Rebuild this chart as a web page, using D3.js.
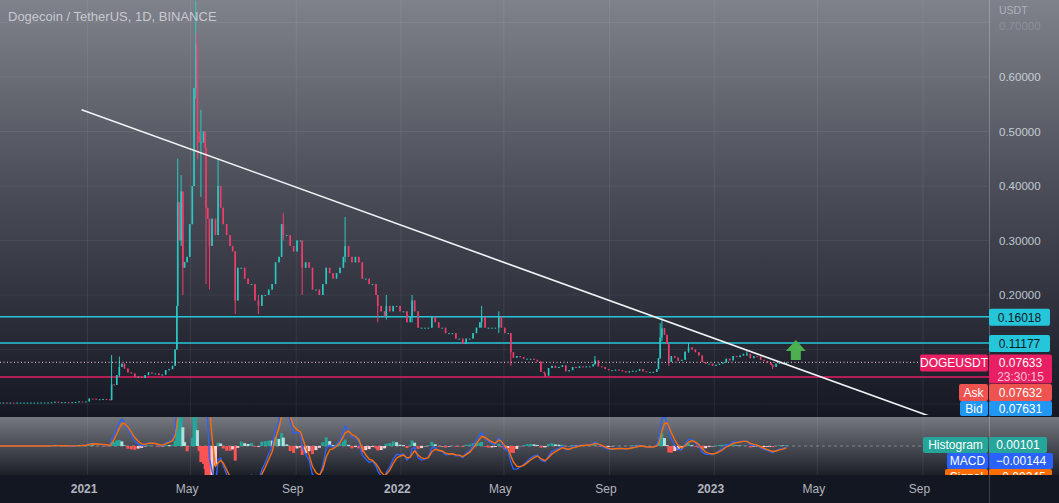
<!DOCTYPE html>
<html>
<head>
<meta charset="utf-8">
<script src="https://cdn.jsdelivr.net/npm/d3@7"></script>
<style>
body { margin: 0; background: #131722; overflow: hidden; }
svg { display: block; font-family: "Liberation Sans", Arial, sans-serif; }
</style>
</head>
<body>
<svg id="chart" width="1059" height="503"></svg>
<script>
// DOGE/USDT closes (about one every 4 days)
var dates = ["2020-09-21","2020-09-25","2020-09-29","2020-10-03","2020-10-07","2020-10-11","2020-10-15","2020-10-19","2020-10-23","2020-10-27","2020-10-31","2020-11-04","2020-11-08","2020-11-12","2020-11-16","2020-11-20","2020-11-24","2020-11-28","2020-12-02","2020-12-06","2020-12-10","2020-12-14","2020-12-18","2020-12-22","2020-12-26","2020-12-30",
"2021-01-03","2021-01-07","2021-01-11","2021-01-15","2021-01-19","2021-01-23","2021-01-27","2021-01-29","2021-02-01","2021-02-04","2021-02-07","2021-02-10","2021-02-13","2021-02-17","2021-02-21","2021-02-25","2021-03-01","2021-03-05","2021-03-09","2021-03-13","2021-03-17","2021-03-21","2021-03-25","2021-03-29","2021-04-02","2021-04-06","2021-04-10","2021-04-13","2021-04-15","2021-04-16","2021-04-18","2021-04-20","2021-04-22","2021-04-24","2021-04-27","2021-04-30",
"2021-05-03","2021-05-05","2021-05-07","2021-05-09","2021-05-11","2021-05-13","2021-05-16","2021-05-18","2021-05-19","2021-05-21","2021-05-23","2021-05-26","2021-05-30","2021-06-02","2021-06-05","2021-06-08","2021-06-12","2021-06-16","2021-06-19","2021-06-22","2021-06-25","2021-06-29","2021-07-03","2021-07-07","2021-07-11","2021-07-15","2021-07-19","2021-07-23","2021-07-27","2021-07-31","2021-08-04","2021-08-08","2021-08-12","2021-08-15","2021-08-17","2021-08-21","2021-08-25","2021-08-29",
"2021-09-02","2021-09-06","2021-09-08","2021-09-12","2021-09-16","2021-09-20","2021-09-24","2021-09-28","2021-10-02","2021-10-06","2021-10-10","2021-10-14","2021-10-18","2021-10-22","2021-10-26","2021-10-28","2021-11-01","2021-11-05","2021-11-09","2021-11-13","2021-11-17","2021-11-21","2021-11-25","2021-11-29","2021-12-03","2021-12-05","2021-12-09","2021-12-13","2021-12-15","2021-12-19","2021-12-23","2021-12-27","2021-12-31",
"2022-01-04","2022-01-08","2022-01-12","2022-01-14","2022-01-17","2022-01-21","2022-01-25","2022-01-29","2022-02-02","2022-02-06","2022-02-10","2022-02-14","2022-02-18","2022-02-22","2022-02-26","2022-03-02","2022-03-06","2022-03-10","2022-03-14","2022-03-18","2022-03-22","2022-03-26","2022-03-30","2022-04-03","2022-04-05","2022-04-09","2022-04-13","2022-04-17","2022-04-21","2022-04-25","2022-04-28",
"2022-05-02","2022-05-06","2022-05-09","2022-05-12","2022-05-16","2022-05-20","2022-05-24","2022-05-28","2022-06-01","2022-06-05","2022-06-09","2022-06-13","2022-06-17","2022-06-18","2022-06-22","2022-06-26","2022-06-30","2022-07-04","2022-07-08","2022-07-12","2022-07-16","2022-07-20","2022-07-24","2022-07-28","2022-08-01","2022-08-05","2022-08-09","2022-08-13","2022-08-15","2022-08-19","2022-08-23","2022-08-27","2022-08-31",
"2022-09-04","2022-09-08","2022-09-12","2022-09-16","2022-09-20","2022-09-24","2022-09-28","2022-10-02","2022-10-06","2022-10-10","2022-10-14","2022-10-18","2022-10-22","2022-10-26","2022-10-28","2022-10-30","2022-11-01","2022-11-04","2022-11-07","2022-11-09","2022-11-12","2022-11-16","2022-11-20","2022-11-24","2022-11-28","2022-12-02","2022-12-06","2022-12-10","2022-12-14","2022-12-18","2022-12-22","2022-12-26","2022-12-30",
"2023-01-03","2023-01-07","2023-01-11","2023-01-15","2023-01-19","2023-01-23","2023-01-27","2023-01-31","2023-02-04","2023-02-08","2023-02-12","2023-02-16","2023-02-20","2023-02-24","2023-02-28","2023-03-04","2023-03-08","2023-03-10","2023-03-14","2023-03-18","2023-03-22","2023-03-26"];

var closes = [0.0027,0.0027,0.0026,0.0026,0.0025,0.0026,0.0026,0.0026,0.0026,0.0026,0.0026,0.0026,0.0027,0.0027,0.0028,0.0031,0.0040,0.0033,0.0034,0.0034,0.0032,0.0033,0.0037,0.0045,0.0044,0.0046,
0.0098,0.0097,0.0083,0.0088,0.0093,0.0085,0.0071,0.036,0.035,0.053,0.068,0.074,0.065,0.058,0.056,0.049,0.050,0.048,0.053,0.058,0.056,0.056,0.053,0.054,0.062,0.064,0.070,0.100,0.180,0.370,0.300,0.390,0.250,0.260,0.270,0.330,
0.400,0.580,0.660,0.500,0.480,0.480,0.500,0.470,0.360,0.340,0.290,0.340,0.310,0.400,0.360,0.330,0.310,0.290,0.280,0.190,0.250,0.250,0.230,0.220,0.220,0.190,0.180,0.200,0.200,0.210,0.220,0.260,0.270,0.330,0.310,0.310,0.290,0.280,
0.300,0.300,0.250,0.260,0.250,0.210,0.210,0.200,0.220,0.250,0.240,0.230,0.240,0.250,0.270,0.290,0.270,0.260,0.270,0.260,0.230,0.230,0.220,0.220,0.200,0.180,0.170,0.160,0.180,0.170,0.180,0.180,0.170,
0.170,0.150,0.160,0.190,0.170,0.140,0.140,0.140,0.140,0.160,0.150,0.140,0.140,0.130,0.130,0.130,0.120,0.120,0.110,0.120,0.120,0.130,0.140,0.150,0.160,0.140,0.140,0.140,0.140,0.160,0.140,
0.130,0.130,0.095,0.085,0.088,0.086,0.083,0.083,0.083,0.081,0.078,0.059,0.056,0.052,0.066,0.070,0.066,0.068,0.071,0.060,0.062,0.068,0.066,0.069,0.068,0.069,0.069,0.073,0.080,0.069,0.068,0.064,0.062,
0.062,0.063,0.062,0.060,0.058,0.060,0.061,0.061,0.064,0.060,0.059,0.059,0.059,0.064,0.084,0.122,0.139,0.127,0.110,0.077,0.088,0.085,0.079,0.081,0.096,0.104,0.100,0.095,0.089,0.077,0.074,0.074,0.070,
0.072,0.074,0.076,0.083,0.080,0.088,0.086,0.089,0.092,0.092,0.084,0.088,0.087,0.081,0.079,0.076,0.072,0.068,0.074,0.075,0.073,0.07633];

// wicks that stick out of the bodies: [date, high, low]
var wicks = [["2021-01-03",0.0105,0.0045],["2021-01-29",0.090,0.0070],["2021-02-07",0.087,0.050],["2021-04-16",0.450,0.180],["2021-04-20",0.420,0.290],["2021-04-22",0.390,0.200],
["2021-05-07",0.740,0.560],["2021-05-09",0.680,0.450],["2021-05-13",0.540,0.380],["2021-05-19",0.470,0.220],["2021-05-23",0.330,0.210],["2021-06-02",0.450,0.310],["2021-06-22",0.280,0.165],
["2021-07-19",0.200,0.165],["2021-08-17",0.350,0.300],["2021-09-08",0.300,0.200],["2021-10-28",0.343,0.260],["2021-12-05",0.200,0.150],["2021-12-15",0.200,0.155],["2022-01-14",0.200,0.150],
["2022-04-05",0.180,0.140],["2022-04-25",0.170,0.130],["2022-05-09",0.130,0.070],["2022-06-18",0.056,0.049],["2022-08-15",0.088,0.072],["2022-10-30",0.148,0.083],["2022-11-01",0.157,0.115],
["2022-11-09",0.110,0.070],["2022-12-02",0.112,0.094],["2023-02-08",0.097,0.088],["2023-03-10",0.073,0.064]];

var priceTicks = [0, 0.1, 0.2, 0.3, 0.4, 0.5, 0.6, 0.7];
var timeTicks = ["2021-01-01","2021-05-01","2021-09-01","2022-01-01","2022-05-01","2022-09-01","2023-01-01","2023-05-01","2023-09-01"];
var levelsCyan = [0.16018, 0.11177];
var levelPink = 0.0495;
var lastPrice = 0.07633;
var trendLine = [["2020-12-25", 0.54], ["2023-09-10", -0.023]];
var arrow = { date: "2023-04-06", tip: 0.1174, base: 0.0807 };

var parse = d3.utcParse("%Y-%m-%d");
var W = 1059, H = 503, plotR = 989, mainB = 415, macdT = 417, macdB = 475;

var x = d3.scaleUtc().domain([parse("2020-09-21"), parse("2023-11-17")]).range([0, plotR]);
var y = d3.scaleLinear().domain([-0.0202, 0.7413]).range([mainB, 0]);
var yM = d3.scaleLinear().domain([-0.018, 0.018]).range([macdB, macdT]);

var candles = dates.map(function (d, i) {
    var o = i > 0 ? closes[i - 1] : closes[0], c = closes[i];
    return { t: parse(d), o: o, c: c, h: Math.max(o, c), l: Math.min(o, c) };
});
wicks.forEach(function (w) {
    var k = dates.indexOf(w[0]);
    if (k >= 0) { candles[k].h = Math.max(candles[k].h, w[1]); candles[k].l = Math.min(candles[k].l, w[2]); }
});

// MACD(12,26,9) on the closes, EMA step scaled by the gap in days
function ema(vals, n) {
    var a = 2 / (n + 1), e = vals[0];
    return vals.map(function (v, i) {
        if (i > 0) {
            var gap = (candles[i].t - candles[i - 1].t) / 864e5;
            e = e + (1 - Math.pow(1 - a, gap)) * (v - e);
        }
        return e;
    });
}
var e12 = ema(closes, 12), e26 = ema(closes, 26);
var macd = e12.map(function (v, i) { return v - e26[i]; });
var signal = ema(macd, 9);
var hist = macd.map(function (v, i) { return v - signal[i]; });

var svg = d3.select("#chart");
var defs = svg.append("defs");
var g1 = defs.append("linearGradient").attr("id", "bgMain").attr("x1", 0).attr("y1", 0).attr("x2", 0).attr("y2", 1);
g1.append("stop").attr("offset", "0%").attr("stop-color", "#7f828a");
g1.append("stop").attr("offset", "45%").attr("stop-color", "#4b4e58");
g1.append("stop").attr("offset", "100%").attr("stop-color", "#151823");
var g2 = defs.append("linearGradient").attr("id", "bgMacd").attr("x1", 0).attr("y1", 0).attr("x2", 0).attr("y2", 1);
g2.append("stop").attr("offset", "0%").attr("stop-color", "#76787f");
g2.append("stop").attr("offset", "100%").attr("stop-color", "#1d2029");
defs.append("clipPath").attr("id", "clipMain").append("rect").attr("x", 0).attr("y", 0).attr("width", plotR).attr("height", mainB);
defs.append("clipPath").attr("id", "clipMacd").append("rect").attr("x", 0).attr("y", macdT).attr("width", plotR).attr("height", macdB - macdT);

svg.append("rect").attr("width", W).attr("height", H).attr("fill", "#131722");
svg.append("rect").attr("width", W).attr("height", mainB + 1).attr("fill", "url(#bgMain)");
svg.append("rect").attr("y", macdT).attr("width", W).attr("height", macdB - macdT).attr("fill", "url(#bgMacd)");

// grid
var grid = svg.append("g");
grid.selectAll("line.v").data(timeTicks).enter().append("line")
    .attr("x1", function (d) { return x(parse(d)); }).attr("x2", function (d) { return x(parse(d)); })
    .attr("y1", 0).attr("y2", macdB).attr("stroke", "rgba(255,255,255,0.07)");
grid.selectAll("line.h").data(priceTicks).enter().append("line")
    .attr("x1", 0).attr("x2", plotR).attr("y1", function (d) { return y(d); }).attr("y2", function (d) { return y(d); })
    .attr("stroke", "rgba(255,255,255,0.06)");

// horizontal levels
var main = svg.append("g").attr("clip-path", "url(#clipMain)");
main.selectAll("line.lvl").data(levelsCyan).enter().append("line")
    .attr("x1", 0).attr("x2", plotR).attr("y1", function (d) { return y(d); }).attr("y2", function (d) { return y(d); })
    .attr("stroke", "#26c6da").attr("stroke-width", 1.5);
main.append("line").attr("x1", 0).attr("x2", plotR).attr("y1", y(levelPink)).attr("y2", y(levelPink))
    .attr("stroke", "#e91e63").attr("stroke-width", 1.5);

// candles
var upC = "#2ac8c2", dnC = "#ef3d6c";
var cg = main.append("g");
cg.selectAll("line.wick").data(candles).enter().append("line")
    .attr("x1", function (d) { return x(d.t); }).attr("x2", function (d) { return x(d.t); })
    .attr("y1", function (d) { return y(d.h); }).attr("y2", function (d) { return y(d.l); })
    .attr("stroke", function (d) { return d.c >= d.o ? upC : dnC; }).attr("stroke-width", 1);
cg.selectAll("rect.body").data(candles).enter().append("rect")
    .attr("x", function (d) { return x(d.t) - 0.8; }).attr("width", 1.6)
    .attr("y", function (d) { return y(Math.max(d.o, d.c)); })
    .attr("height", function (d) { return Math.max(1, y(Math.min(d.o, d.c)) - y(Math.max(d.o, d.c))); })
    .attr("fill", function (d) { return d.c >= d.o ? upC : dnC; });

// last price dotted
main.append("line").attr("x1", 0).attr("x2", plotR).attr("y1", y(lastPrice)).attr("y2", y(lastPrice))
    .attr("stroke", "rgba(245,200,215,0.85)").attr("stroke-width", 1.2).attr("stroke-dasharray", "1,2.5");

// trend line
main.append("line")
    .attr("x1", x(parse(trendLine[0][0]))).attr("y1", y(trendLine[0][1]))
    .attr("x2", x(parse(trendLine[1][0]))).attr("y2", y(trendLine[1][1]))
    .attr("stroke", "#f4f4f6").attr("stroke-width", 1.6);

// green arrow
var ax = x(parse(arrow.date)), at = y(arrow.tip), ab = y(arrow.base), ah = at + (ab - at) * 0.55;
main.append("polygon")
    .attr("points", [[ax, at], [ax + 10, ah], [ax + 5, ah], [ax + 5, ab], [ax - 5, ab], [ax - 5, ah], [ax - 10, ah]].join(" "))
    .attr("fill", "#4caf50");

// MACD pane
var mg = svg.append("g").attr("clip-path", "url(#clipMacd)");
mg.append("line").attr("x1", 0).attr("x2", plotR).attr("y1", yM(0)).attr("y2", yM(0))
    .attr("stroke", "rgba(200,202,210,0.45)").attr("stroke-dasharray", "3,3");
mg.selectAll("rect.hist").data(hist).enter().append("rect")
    .attr("x", function (d, i) { return x(candles[i].t) - 1.5; }).attr("width", 3)
    .attr("y", function (d) { return Math.min(yM(d), yM(0)); })
    .attr("height", function (d) { return Math.abs(yM(d) - yM(0)); })
    .attr("fill", function (d, i) {
        var p = i > 0 ? hist[i - 1] : d;
        if (d >= 0) return d >= p ? "#26a69a" : "#b2dfdb";
        return d < p ? "#ff5252" : "#ffcdd2";
    });
var lineM = d3.line().x(function (d, i) { return x(candles[i].t); }).y(function (d) { return yM(d); });
mg.append("path").datum(macd).attr("d", lineM).attr("fill", "none").attr("stroke", "#2962ff").attr("stroke-width", 1.4);
mg.append("path").datum(signal).attr("d", lineM).attr("fill", "none").attr("stroke", "#ff6d00").attr("stroke-width", 1.4);

// title
svg.append("text").attr("x", 8).attr("y", 21).attr("font-size", 13).attr("fill", "rgba(215,217,224,0.85)")
    .text("Dogecoin / TetherUS, 1D, BINANCE");

// price axis
svg.append("line").attr("x1", plotR + 0.5).attr("x2", plotR + 0.5).attr("y1", 0).attr("y2", H)
    .attr("stroke", "rgba(255,255,255,0.22)");
var ay = svg.append("g").attr("transform", "translate(" + (plotR + 10) + ",0)")
    .call(d3.axisRight(y).tickValues(priceTicks.filter(function (d) { return d >= 0.2; }))
        .tickFormat(d3.format(".5f")).tickSize(0).tickPadding(0));
ay.select(".domain").remove();
ay.selectAll("text").attr("font-size", 11.5).attr("font-family", "Liberation Sans, Arial, sans-serif")
    .attr("dy", function (d) { return d >= 0.7 ? "0.6em" : "0.32em"; })
    .attr("fill", function (d) { return d >= 0.7 ? "rgba(220,222,230,0.22)" : "rgba(222,224,232,0.85)"; });
svg.append("text").attr("x", plotR + 10).attr("y", 14).attr("font-size", 10.5).attr("fill", "rgba(220,222,230,0.55)").text("USDT");

// price labels
function tag(x0, y0, w, h, fill, txt, col) {
    svg.append("rect").attr("x", x0).attr("y", y0).attr("width", w).attr("height", h).attr("rx", 2).attr("fill", fill);
    if (txt) svg.append("text").attr("x", x0 + w / 2).attr("y", y0 + h / 2).attr("dy", "0.36em").attr("text-anchor", "middle")
        .attr("font-size", 12).attr("fill", col || "#ffffff").text(txt);
}
var fmt = d3.format(".5f");
tag(plotR, y(levelsCyan[0]) - 8, 61, 17, "#26c6da", fmt(levelsCyan[0]), "#131722");
tag(plotR, y(levelsCyan[1]) - 8, 61, 17, "#26c6da", fmt(levelsCyan[1]), "#131722");
tag(plotR, y(lastPrice) - 8, 63, 29, "#e91e63", null);
svg.append("text").attr("x", plotR + 31.5).attr("y", y(lastPrice) + 0.5).attr("dy", "0.36em").attr("text-anchor", "middle")
    .attr("font-size", 12).attr("fill", "#ffffff").text(fmt(lastPrice));
svg.append("text").attr("x", plotR + 31.5).attr("y", y(lastPrice) + 14).attr("dy", "0.36em").attr("text-anchor", "middle")
    .attr("font-size", 12).attr("fill", "#f8c3d6").text("23:30:15");
tag(920, y(lastPrice) - 8, 68, 17, "#e91e63", "DOGEUSDT");
tag(959, 384, 29, 17, "#ef5350", "Ask");
tag(plotR, 384, 63, 17, "#ef5350", "0.07632");
tag(960, 401, 28, 15, "#2196f3", "Bid");
tag(plotR, 401, 63, 15, "#2196f3", "0.07631");
tag(923, 437, 65, 16, "#26a69a", "Histogram");
tag(plotR, 437, 58, 16, "#26a69a", "0.00101");
tag(947, 453, 41, 16, "#2962ff", "MACD");
tag(plotR, 453, 64, 16, "#2962ff", "\u22120.00144");
tag(945, 469, 43, 16, "#ff6d00", "Signal");
tag(plotR, 469, 63, 16, "#ff6d00", "\u22120.00245");

// time axis strip
svg.append("rect").attr("y", macdB).attr("width", W).attr("height", H - macdB).attr("fill", "#131722");
svg.append("line").attr("x1", plotR + 0.5).attr("x2", plotR + 0.5).attr("y1", macdB).attr("y2", H)
    .attr("stroke", "rgba(255,255,255,0.18)");
var ax2 = svg.append("g").attr("transform", "translate(0," + macdB + ")")
    .call(d3.axisBottom(x).tickValues(timeTicks.map(parse)).tickSize(0).tickPadding(9)
        .tickFormat(function (d) { return d.getUTCMonth() === 0 ? d3.utcFormat("%Y")(d) : d3.utcFormat("%b")(d); }));
ax2.select(".domain").remove();
ax2.selectAll("text").attr("font-size", 12).attr("font-family", "Liberation Sans, Arial, sans-serif").attr("dx", -4)
    .attr("fill", "#b2b5be")
    .attr("font-weight", function (d) { return d.getUTCMonth() === 0 ? "bold" : "normal"; });
</script>
</body>
</html>
